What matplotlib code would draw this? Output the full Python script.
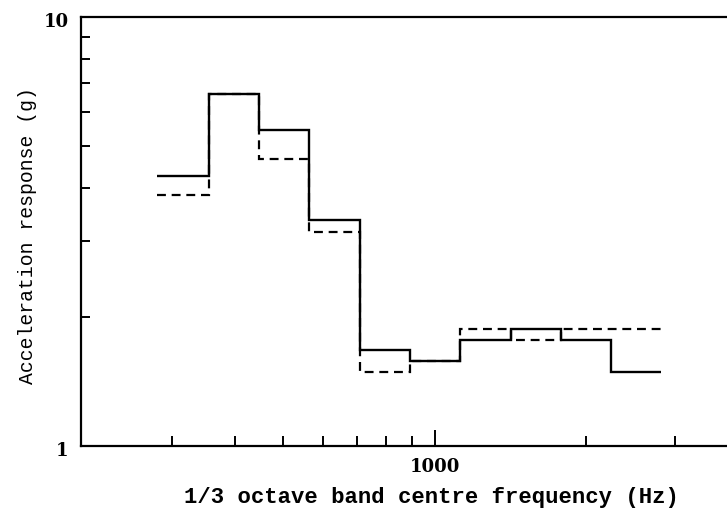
import matplotlib
matplotlib.use("Agg")
import matplotlib.pyplot as plt
from matplotlib.ticker import FixedLocator, NullFormatter, FixedFormatter
from matplotlib.transforms import ScaledTranslation

# 1/3 octave band edges (Hz)
band_edges = [280, 355, 447, 562, 708, 891, 1122, 1413, 1778, 2239, 2818]
# Acceleration response (g) per band
solid_values = [4.25, 6.6, 5.46, 3.36, 1.673, 1.574, 1.77, 1.877, 1.77, 1.487]
dashed_values = [3.85, 6.6, 4.66, 3.16, 1.487, 1.574, 1.877, 1.77, 1.877, 1.877]

x_major_ticks = [1000]
x_major_labels = ["1000"]
x_minor_ticks = [300, 400, 500, 600, 700, 800, 900, 2000, 3000]
y_major_ticks = [1, 10]
y_major_labels = ["1", "10"]
y_minor_ticks = [2, 3, 4, 5, 6, 7, 8, 9]

W, H = 727, 509
fig = plt.figure(figsize=(W / 100, H / 100), dpi=100)
left_px, right_px, top_px, bottom_px = 81, 738, 17, 446
ax = fig.add_axes([left_px / W, (H - bottom_px) / H,
                   (right_px - left_px) / W, (bottom_px - top_px) / H])
ax.set_xscale("log")
ax.set_yscale("log")
ax.set_xlim(198, 4000)
ax.set_ylim(1, 10)

ax.stairs(dashed_values, band_edges, color="black", lw=1.6,
          linestyle=(0, (4, 2.6)), baseline=None)
ax.stairs(solid_values, band_edges, color="black", lw=1.7, baseline=None)

for s in ax.spines.values():
    s.set_linewidth(1.6)

ax.xaxis.set_major_locator(FixedLocator(x_major_ticks))
ax.xaxis.set_major_formatter(FixedFormatter(x_major_labels))
ax.xaxis.set_minor_locator(FixedLocator(x_minor_ticks))
ax.xaxis.set_minor_formatter(NullFormatter())
ax.yaxis.set_major_locator(FixedLocator(y_major_ticks))
ax.yaxis.set_major_formatter(FixedFormatter(y_major_labels))
ax.yaxis.set_minor_locator(FixedLocator(y_minor_ticks))
ax.yaxis.set_minor_formatter(NullFormatter())

ax.tick_params(axis="x", which="major", direction="in", length=11.5, width=1.4, pad=9)
ax.tick_params(axis="x", which="minor", direction="in", length=7, width=1.4)
ax.tick_params(axis="y", which="major", direction="in", length=0, width=1.4, pad=9)
ax.tick_params(axis="y", which="minor", direction="in", length=6.5, width=1.4)
ax.tick_params(top=False, right=False, which="both")

for lab in ax.get_xticklabels() + ax.get_yticklabels():
    lab.set_fontfamily("DejaVu Serif")
    lab.set_fontweight("bold")
    lab.set_fontsize(13)
offset = ScaledTranslation(0, -3 / 100, fig.dpi_scale_trans)
for t in ax.yaxis.get_major_ticks():
    t.label1.set_transform(t.label1.get_transform() + offset)

ax.set_xlabel("1/3 octave band centre frequency (Hz)", family="Liberation Mono",
              weight="bold", size=16)
ax.xaxis.set_label_coords((431 - left_px) / (right_px - left_px),
                          -(497 - bottom_px) / (bottom_px - top_px))
ax.xaxis.label.set_verticalalignment("center")
ax.set_ylabel("Acceleration response (g)", family="Liberation Mono",
              size=14.2)
ax.yaxis.set_label_coords(-(left_px - 28) / (right_px - left_px),
                          (bottom_px - 235.5) / (bottom_px - top_px))
ax.yaxis.label.set_verticalalignment("center")

fig.savefig("out.png", dpi=100)
